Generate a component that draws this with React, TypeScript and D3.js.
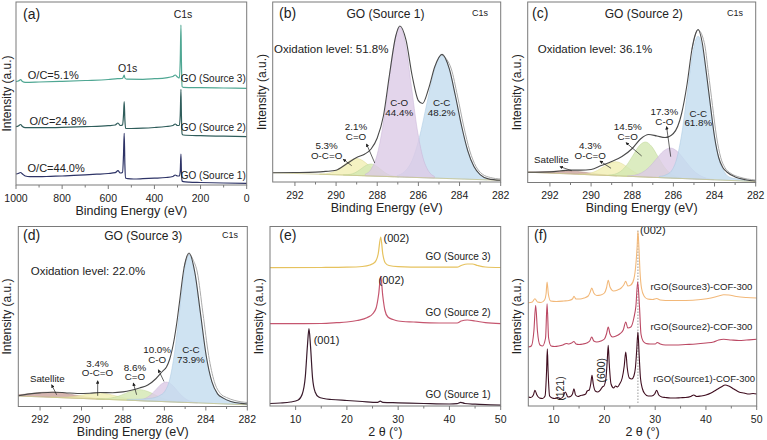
import React from 'react';
import * as d3 from 'd3';

type P = [number, number];

const FONT = 'Arial, "Liberation Sans", Helvetica, sans-serif';
const TXT = '#222';
const AXIS = '#7a7a7a';

// ================= (a) XPS survey: [binding energy eV, intensity a.u.] =================
const surveyTicks = [1000, 800, 600, 400, 200, 0];
const surveyMinor = [900, 700, 500, 300, 100];
const surveySource1: P[] = [
  [1000, 11], [990, 11.5], [980, 12.5], [972, 11], [960, 9], [940, 8.3], [900, 8.3], [850, 8.7], [800, 9],
  [750, 9.6], [700, 10.2], [650, 10.8], [600, 11.5], [570, 12.3], [558, 14.3], [548, 12], [538, 12.5],
  [534, 30], [531, 51.7], [528, 20], [525, 7], [515, 6.3], [490, 6], [450, 6.3], [400, 6.8], [350, 7.5],
  [320, 8.5], [310, 10], [300, 9], [292, 9], [288, 14], [285, 31], [283, 14], [280, 4], [275, 3.3],
  [250, 2.8], [200, 2.5], [100, 2], [0, 1.7],
];
const surveySource2: P[] = [
  [1000, 58.3], [990, 59], [980, 60.5], [972, 58.5], [960, 57.3], [900, 57.3], [800, 57.6], [700, 58.3],
  [600, 59.3], [570, 60], [558, 62], [548, 59.5], [538, 60], [534, 70], [531, 83.3], [528, 65], [525, 56.7],
  [500, 56.5], [450, 56.8], [400, 57.5], [350, 58.5], [320, 59.5], [310, 61], [300, 59.5], [292, 59.5],
  [288, 70], [285, 95.7], [283, 70], [280, 51], [275, 50], [200, 49.3], [100, 48.8], [0, 48.3],
];
const surveySource3: P[] = [
  [1000, 103.3], [990, 104], [980, 105.3], [972, 103.5], [960, 102.7], [900, 103], [800, 103.7],
  [700, 104.5], [600, 105.5], [560, 106.3], [540, 106.5], [534, 108.5], [531, 110], [528, 107], [520, 105.8],
  [450, 105.7], [400, 106.3], [350, 107.2], [320, 108.5], [310, 110], [300, 108], [292, 107], [288, 125],
  [285, 160], [283, 125], [280, 98.5], [275, 97.7], [200, 97.3], [100, 97], [0, 96.7],
];
const surveyNames = ['GO (Source 1)', 'GO (Source 2)', 'GO (Source 3)'];
const surveyRatios = ['O/C=44.0%', 'O/C=24.8%', 'O/C=5.1%'];

// ================= C1s high-resolution: [binding energy eV, intensity above background] =================
const c1sTicks = [292, 290, 288, 286, 284, 282];
const c1sMinor = [291, 289, 287, 285, 283];

// (b) GO (Source 1)
const bBackground: P[] = [[293.08, 9.3], [282, 1.7]];
const bOCO: P[] = [[287.2, 0.19], [287.5, 0.75], [287.8, 2.3], [288.1, 5.5], [288.4, 10.3], [288.7, 15], [289.0, 17], [289.3, 15], [289.6, 10.3], [289.9, 5.5], [290.2, 2.3], [290.5, 0.75], [290.8, 0.19]];
const bCdO: P[] = [[286.95, 0.13], [287.18, 0.53], [287.4, 1.6], [287.63, 3.9], [287.85, 7.3], [288.08, 10.6], [288.3, 12], [288.53, 10.6], [288.75, 7.3], [288.98, 3.9], [289.2, 1.6], [289.43, 0.53], [289.65, 0.13]];
const bCO: P[] = [[285.22, 1.7], [285.5, 6.6], [285.78, 20.3], [286.06, 48.7], [286.34, 91], [286.62, 132.4], [286.9, 150], [287.18, 132.4], [287.46, 91], [287.74, 48.7], [288.02, 20.3], [288.3, 6.6], [288.58, 1.7]];
const bCC: P[] = [[282.66, 1.4], [283.03, 5.4], [283.39, 16.8], [283.76, 40.3], [284.12, 75.2], [284.49, 109.4], [284.85, 124], [285.21, 109.4], [285.58, 75.2], [285.95, 40.3], [286.31, 16.8], [286.68, 5.4], [287.04, 1.4]];
const bEnvelope: P[] = [[293.08, 9.3], [292, 9.5], [291, 9.9], [290.5, 10.6], [290, 11.8], [289.5, 18], [289, 24.5], [288.6, 28], [288.3, 33], [288, 44], [287.7, 66], [287.4, 108], [287.1, 146], [286.9, 156], [286.6, 141.8], [286.3, 106], [286, 81.4], [285.8, 78.5], [285.5, 93.6], [285.2, 115.5], [284.85, 127.6], [284.5, 113.3], [284.2, 86], [283.9, 56], [283.6, 31.2], [283.3, 15.5], [283, 7.3], [282.6, 3.1], [282, 1.7]];
const bRaw: P[] = [[284.85, 127], [284.4, 113], [284.1, 86], [283.8, 56], [283.5, 31], [283.2, 15.5], [282.9, 8], [282.5, 4.5], [282, 3]];

// (c) GO (Source 2)
const cBackground: P[] = [[293.08, 10.3], [282, 1.0]];
const cSat: P[] = [[288.75, 0.13], [289.2, 0.4], [289.65, 0.97], [290.1, 1.8], [290.55, 2.65], [291.0, 3], [291.45, 2.65], [291.9, 1.8], [292.35, 0.97], [292.8, 0.4], [293.08, 0.2]];
const cOCO: P[] = [[287.0, 0.16], [287.3, 0.6], [287.6, 1.9], [287.9, 4.5], [288.2, 8.5], [288.5, 12.4], [288.8, 14], [289.1, 12.4], [289.4, 8.5], [289.7, 4.5], [290.0, 1.9], [290.3, 0.6], [290.6, 0.16]];
const cCdO: P[] = [[285.56, 0.39], [285.86, 1.5], [286.16, 4.7], [286.46, 11.4], [286.76, 21.2], [287.06, 30.9], [287.36, 35], [287.66, 30.9], [287.96, 21.2], [288.26, 11.4], [288.56, 4.7], [288.86, 1.5], [289.16, 0.39]];
const cCO: P[] = [[284.04, 0.33], [284.39, 1.3], [284.74, 4.1], [285.09, 9.7], [285.44, 18.2], [285.79, 26.5], [286.14, 30], [286.49, 26.5], [286.84, 18.2], [287.19, 9.7], [287.54, 4.1], [287.89, 1.3], [288.24, 0.33]];
const cCC: P[] = [[282.2, 0.5], [282.7, 1.5], [283.24, 3], [283.5, 7.5], [283.76, 19.4], [284.02, 46.4], [284.28, 86.7], [284.54, 126.2], [284.8, 143], [285.06, 126.2], [285.32, 86.7], [285.58, 46.4], [285.84, 19.4], [286.1, 7], [286.36, 3], [286.7, 1]];
const cEnvelope: P[] = [[293.08, 10.3], [292, 10.6], [291, 12.4], [290.5, 12.4], [290, 13], [289.5, 17], [289, 21], [288.5, 26], [288, 34], [287.6, 43.5], [287.2, 48], [286.8, 46.5], [286.4, 45], [286, 49], [285.6, 69], [285.33, 99], [285.1, 133], [284.95, 147], [284.8, 153], [284.6, 140], [284.4, 110], [284.2, 77], [284, 45.5], [283.8, 25], [283.6, 15], [283.4, 10.5], [283, 5.5], [282.5, 2.8], [282, 1.5]];
const cRaw: P[] = [[285.1, 133], [284.8, 152.5], [284.5, 140], [284.3, 110], [284.1, 77], [283.9, 45.5], [283.7, 25], [283.5, 15], [283.2, 9], [282.8, 5.5], [282.4, 3.5], [282, 2.5]];

// (d) GO (Source 3)
const dBackground: P[] = [[293.05, 10.5], [282, 1.7]];
const dSat: P[] = [[288.86, 0.23], [289.36, 0.72], [289.86, 1.7], [290.36, 3.2], [290.86, 4.7], [291.36, 5.3], [291.86, 4.7], [292.36, 3.2], [292.86, 1.7], [293.05, 1.4]];
const dOCO: P[] = [[286.7, 0.07], [287.1, 0.26], [287.5, 0.8], [287.9, 1.95], [288.3, 3.6], [288.7, 5.3], [289.1, 6], [289.5, 5.3], [289.9, 3.6], [290.3, 1.95], [290.7, 0.8], [291.1, 0.26], [291.5, 0.07]];
const dCdO: P[] = [[285.08, 0.12], [285.43, 0.48], [285.78, 1.5], [286.13, 3.6], [286.48, 6.7], [286.83, 9.7], [287.18, 11], [287.53, 9.7], [287.88, 6.7], [288.23, 3.6], [288.58, 1.5], [288.93, 0.48], [289.28, 0.12]];
const dCO: P[] = [[284.4, 0.22], [284.65, 0.86], [284.9, 2.7], [285.15, 6.4], [285.4, 11.9], [285.65, 17.3], [285.9, 19.6], [286.15, 17.3], [286.4, 11.9], [286.65, 6.4], [286.9, 2.7], [287.15, 0.86], [287.4, 0.22]];
const dCC: P[] = [[282.0, 1], [282.3, 1.5], [282.8, 3], [283.16, 6], [283.435, 10], [283.71, 22], [283.985, 48], [284.26, 89.8], [284.535, 130.6], [284.81, 148], [285.05, 130.6], [285.28, 89.8], [285.52, 48], [285.75, 22], [285.99, 10], [286.22, 6], [286.6, 3], [287.2, 1.5], [287.8, 0.7]];
const dEnvelope: P[] = [[293.05, 10.8], [292.5, 12.6], [292, 13.6], [291.4, 14.3], [290.8, 13.8], [290.2, 13], [289.6, 13.3], [289.1, 14], [288.5, 13.8], [288, 14.6], [287.6, 16.2], [287.2, 18.5], [286.8, 21.5], [286.4, 28], [286.1, 35], [285.9, 39.5], [285.75, 47], [285.52, 68], [285.4, 84], [285.28, 103], [285.05, 139], [284.81, 153.5], [284.535, 134.5], [284.26, 93.3], [283.985, 51], [283.71, 24.8], [283.435, 12.6], [283.16, 8.4], [282.8, 5.1], [282.3, 3.1], [282, 2.5]];
const dRaw: P[] = [[285.05, 139], [284.81, 152.5], [284.6, 146], [284.415, 134.5], [284.14, 93.3], [283.865, 51], [283.59, 24.8], [283.3, 13], [283, 9], [282.6, 6], [282, 4]];

// ================= (e) XRD of GO: [2theta deg, intensity] =================
const xrdTicks = [10, 20, 30, 40, 50];
const xrdMinor = [15, 25, 35, 45];
const goXrd1: P[] = [[5, 2.5], [7, 3], [9, 4], [10.5, 6], [11.3, 12], [11.9, 30], [12.3, 60], [12.6, 77.3], [12.9, 60], [13.3, 28], [13.8, 14], [14.5, 9], [15.5, 7.5], [17, 6.5], [20, 5.5], [23, 4.5], [26, 3.7], [26.5, 4.8], [27, 3.6], [30, 3.2], [35, 2.5], [40, 2], [41.5, 2.4], [42.2, 3.7], [43, 2.5], [45, 1.8], [48, 1.2], [50, 0.8]];
const goXrd2: P[] = [[5, 82.3], [10, 82.3], [15, 82.5], [18, 83.3], [20, 84], [22, 85.5], [24, 88.5], [25, 92], [25.7, 98], [26.2, 112], [26.6, 129.7], [27.0, 110], [27.4, 96], [28, 89], [29, 86.5], [30, 85], [33, 84], [38, 83], [41.5, 83], [42.3, 85], [43.5, 86], [45, 85], [47, 83.3], [50, 82.3]];
const goXrd3: P[] = [[5, 138.3], [15, 138.5], [20, 138.8], [23, 139.5], [24.5, 141], [25.5, 144], [26.1, 152], [26.6, 169], [27.0, 152], [27.5, 143], [28.2, 140.5], [30, 139.3], [35, 138.8], [41.5, 138.8], [42.3, 140.5], [43.5, 142], [44.5, 142], [45.5, 140.5], [47, 139], [50, 138.5]];
const goXrdNames = ['GO (Source 1)', 'GO (Source 2)', 'GO (Source 3)'];

// ================= (f) XRD of rGO-COF-300 =================
const cofXrd1: P[] = [[5, 9], [5.5, 8.5], [6, 11], [6.3, 15.7], [6.7, 11], [7.2, 8], [7.8, 7.5], [8.3, 10], [8.6, 35], [8.75, 57.3], [8.9, 35], [9.2, 10], [9.7, 8], [10.2, 7.5], [10.8, 8.5], [11.3, 7.5], [11.8, 9], [12.3, 14], [12.8, 9], [13.3, 9.5], [13.7, 12], [14.0, 17.3], [14.3, 11], [14.8, 9.5], [15.3, 10.5], [15.8, 11], [16.3, 12], [16.6, 15], [17.0, 16], [17.3, 22], [17.55, 30.7], [17.8, 22], [18.2, 15], [18.7, 14], [19.2, 16], [19.6, 19], [19.9, 20], [20.3, 28], [20.55, 45], [20.75, 60.7], [20.95, 42], [21.3, 22], [21.8, 18], [22.2, 20], [22.6, 19], [23.0, 22], [23.5, 28], [23.9, 40], [24.2, 54], [24.5, 38], [24.9, 28], [25.4, 27], [25.8, 30], [26.1, 38], [26.35, 55], [26.6, 74], [26.85, 50], [27.1, 28], [27.5, 17], [28.0, 12], [28.6, 10], [29.3, 10], [29.9, 12], [30.3, 15.7], [30.7, 11], [31.3, 9], [32, 8.5], [33, 8], [34, 8], [35, 8.3], [36, 8.5], [37, 9.5], [37.6, 11], [38.2, 9.5], [39, 10], [40, 11], [41, 13], [42, 16], [43, 19], [43.8, 21], [44.5, 20], [45.5, 17], [46.5, 14], [47.5, 13], [48.5, 12], [49.3, 12.5], [50, 12]];
const cofXrd2: P[] = [[5, 59], [5.6, 60], [6.1, 75], [6.45, 100.7], [6.8, 75], [7.3, 61], [7.8, 60], [8.4, 68], [8.7, 102.3], [9.0, 68], [9.5, 60], [10.2, 59.5], [11, 60], [11.8, 61], [12.5, 62.5], [13, 62], [13.5, 63], [14.0, 64.5], [14.4, 62], [15, 61.5], [15.8, 62], [16.5, 63], [17.1, 65], [17.5, 69], [17.9, 65], [18.5, 64], [19.3, 65], [20.0, 67], [20.4, 72], [20.75, 79], [21.1, 72], [21.6, 69], [22.3, 70], [23.0, 72], [23.7, 76], [24.2, 84], [24.6, 78], [25.2, 79], [25.8, 88], [26.2, 100], [26.55, 124], [26.9, 100], [27.2, 72], [27.6, 65], [28.2, 62.5], [29, 62], [30, 62], [30.4, 63.5], [31, 62], [32, 61], [34, 61], [36, 61.5], [38, 62], [40, 63], [41.5, 64], [42.5, 66], [43.5, 66.7], [45, 66], [46.5, 65.5], [48, 66], [50, 66.7]];
const cofXrd3: P[] = [[5, 103.3], [5.8, 104], [6.3, 107.3], [6.8, 104], [7.5, 103.5], [8.2, 106], [8.5, 112], [8.7, 124], [8.95, 112], [9.4, 105], [10.5, 104.5], [12, 105], [13, 105.5], [13.7, 107], [14.0, 109.7], [14.4, 107], [15.2, 107], [16, 108], [16.8, 110], [17.2, 114], [17.5, 118], [17.9, 113], [18.5, 110.5], [19.3, 111], [20.0, 113], [20.4, 118], [20.75, 125.7], [21.1, 119], [21.8, 115], [22.6, 116], [23.3, 118], [23.8, 121], [24.2, 124.7], [24.6, 120], [25.2, 121], [25.8, 127], [26.2, 142], [26.45, 160], [26.6, 174.7], [26.8, 158], [27.0, 135], [27.3, 118], [27.8, 110], [28.5, 107], [29.5, 106.5], [30.3, 107.5], [31, 106], [33, 105.5], [36, 105.5], [39, 106.5], [41, 108], [42.5, 110], [43.5, 111.3], [44.5, 111], [46, 109.5], [48, 108.5], [50, 108]];
const cofNames = ['rGO(Source1)-COF-300', 'rGO(Source2)-COF-300', 'rGO(Source3)-COF-300'];

// ================= styles =================
const FILL = { cc: '#c3dcef', co: '#dccae6', cdo: '#d3e7b2', oco: '#f1efb3', sat: '#caa39c' };
const STROKE = { cc: '#a6c7e0', co: '#c7b2d6', cdo: '#bcd595', oco: '#dcd78e', sat: '#b58a82' };

interface Fr { l: number; t: number; r: number; b: number }

function Axes({ fr, x, major, minor, xlabel }: { fr: Fr; x: (v: number) => number; major: number[]; minor: number[]; xlabel: React.ReactNode }) {
  return (
    <g>
      <rect x={fr.l} y={fr.t} width={fr.r - fr.l} height={fr.b - fr.t} fill="none" stroke={AXIS} strokeWidth={1} />
      {major.map((t) => (
        <g key={'M' + t}>
          <line x1={x(t)} x2={x(t)} y1={fr.b} y2={fr.b + 4} stroke={AXIS} />
          <text x={x(t)} y={fr.b + 16.5} textAnchor="middle" fontSize={10.5} fill={TXT}>{t}</text>
        </g>
      ))}
      {minor.map((t) => (
        <line key={'m' + t} x1={x(t)} x2={x(t)} y1={fr.b} y2={fr.b + 2.5} stroke={AXIS} />
      ))}
      <text x={(fr.l + fr.r) / 2} y={fr.b + 29.5} textAnchor="middle" fontSize={12.5} fill={TXT}>{xlabel}</text>
      <text transform={`translate(${Math.max(fr.l - 7, 11)},${(fr.t + fr.b) / 2}) rotate(-90)`} textAnchor="middle" fontSize={12} fill={TXT}>
        Intensity (a.u.)
      </text>
    </g>
  );
}

// two-line peak annotation: first line baseline at (e, v), second line `gap` px lower
interface Note { lines: string[]; e: number; v: number }
interface Comp { data: P[]; key: keyof typeof FILL }

function XpsPanel(p: {
  id: string; fr: Fr; xMax: number; bg: P[]; comps: Comp[]; env: P[]; raw: P[];
  letter: string; letterPos: P; title: string; titlePos: P; c1sPos: P; ox: string; oxPos: P;
  notes: Note[]; arrows: [number, number, number, number][];
}) {
  const { fr } = p;
  const x = d3.scaleLinear().domain([p.xMax, 282]).range([fr.l, fr.r]);
  const y = d3.scaleLinear().domain([0, fr.b - fr.t]).range([fr.b, fr.t]);
  const bg = d3.scaleLinear().domain(p.bg.map((d) => d[0])).range(p.bg.map((d) => d[1]));
  const sorted = (d: P[]) => [...d].sort((a, b) => b[0] - a[0]);
  const area = d3.area<P>().x((d) => x(d[0])).y0((d) => y(bg(d[0]))).y1((d) => y(bg(d[0]) + d[1])).curve(d3.curveMonotoneX);
  const line = d3.line<P>().x((d) => x(d[0])).y((d) => y(d[1])).curve(d3.curveMonotoneX);
  return (
    <g>
      <defs>
        <clipPath id={p.id + 'clip'}>
          <rect x={fr.l} y={fr.t} width={fr.r - fr.l} height={fr.b - fr.t} />
        </clipPath>
      </defs>
      <g clipPath={`url(#${p.id}clip)`}>
        {p.comps.map((c, i) => (
          <path key={i} d={area(sorted(c.data)) || ''} fill={FILL[c.key]} fillOpacity={0.8} stroke={STROKE[c.key]} strokeWidth={0.5} />
        ))}
        <path d={line(sorted(p.bg)) || ''} fill="none" stroke="#c9c78f" strokeWidth={0.8} />
        <path d={line(sorted(p.raw)) || ''} fill="none" stroke="#aaaaaa" strokeWidth={1} />
        <path d={line(sorted(p.env)) || ''} fill="none" stroke="#4a4a4a" strokeWidth={1.1} />
      </g>
      {p.arrows.map((a, i) => (
        <line key={i} x1={x(a[0])} y1={y(a[1])} x2={x(a[2])} y2={y(a[3])} stroke="#222" strokeWidth={0.7} markerStart="url(#arrowHead)" />
      ))}
      {p.notes.map((n, i) => (
        <text key={i} x={x(n.e)} y={y(n.v)} textAnchor="middle" fontSize={9.8} fill={TXT}>
          {n.lines.map((l, j) => (
            <tspan key={j} x={x(n.e)} dy={j === 0 ? 0 : 9.6}>{l}</tspan>
          ))}
        </text>
      ))}
      <text x={p.letterPos[0]} y={p.letterPos[1]} fontSize={14} fill={TXT}>{p.letter}</text>
      <text x={p.titlePos[0]} y={p.titlePos[1]} textAnchor="middle" fontSize={12} fill={TXT}>{p.title}</text>
      <text x={p.c1sPos[0]} y={p.c1sPos[1]} textAnchor="middle" fontSize={9} fill={TXT}>C1s</text>
      <text x={p.oxPos[0]} y={p.oxPos[1]} fontSize={11.5} fill={TXT}>{p.ox}</text>
      <Axes fr={fr} x={x} major={c1sTicks} minor={c1sMinor} xlabel="Binding Energy (eV)" />
    </g>
  );
}

function SurveyPanel() {
  const fr: Fr = { l: 16, t: 2, r: 246.7, b: 185 };
  const x = d3.scaleLinear().domain([1000, 0]).range([fr.l, fr.r]);
  const y = d3.scaleLinear().domain([0, fr.b - fr.t]).range([fr.b, fr.t]);
  const line = d3.line<P>().x((d) => x(d[0])).y((d) => y(d[1])).curve(d3.curveMonotoneX);
  const series = [surveySource1, surveySource2, surveySource3];
  const colors = ['#2e3467', '#2f5d5b', '#4fa793'];
  const nameV = [6, 54, 103];
  const ratioPos: P[] = [[950, 13], [942, 60], [949, 106]];
  return (
    <g>
      {series.map((s, i) => (
        <path key={i} d={line(s) || ''} fill="none" stroke={colors[i]} strokeWidth={1.2} />
      ))}
      {surveyNames.map((n, i) => (
        <text key={n} x={x(4)} y={y(nameV[i])} textAnchor="end" fontSize={10} fill={TXT}>{n}</text>
      ))}
      {surveyRatios.map((n, i) => (
        <text key={n} x={x(ratioPos[i][0])} y={y(ratioPos[i][1])} fontSize={11} fill={TXT}>{n}</text>
      ))}
      <text x={x(516)} y={y(113)} textAnchor="middle" fontSize={10.5} fill={TXT}>O1s</text>
      <text x={x(276)} y={y(167)} textAnchor="middle" fontSize={10.5} fill={TXT}>C1s</text>
      <text x={23} y={19} fontSize={14} fill={TXT}>(a)</text>
      <Axes fr={fr} x={x} major={surveyTicks} minor={surveyMinor} xlabel="Binding Energy (eV)" />
    </g>
  );
}

const twoTheta = <tspan>2 θ (°)</tspan>;

function GoXrdPanel() {
  const fr: Fr = { l: 270, t: 226.5, r: 500.7, b: 406 };
  const x = d3.scaleLinear().domain([5, 50]).range([fr.l, fr.r]);
  const y = d3.scaleLinear().domain([0, fr.b - fr.t]).range([fr.b, fr.t]);
  const line = d3.line<P>().x((d) => x(d[0])).y((d) => y(d[1])).curve(d3.curveMonotoneX);
  const series = [goXrd1, goXrd2, goXrd3];
  const colors = ['#3a1b2c', '#c5566f', '#e6c25e'];
  const nameV = [8, 89.7, 145.7];
  return (
    <g>
      {series.map((s, i) => (
        <path key={i} d={line(s) || ''} fill="none" stroke={colors[i]} strokeWidth={1.2} />
      ))}
      {goXrdNames.map((n, i) => (
        <text key={n} x={x(48.03)} y={y(nameV[i])} textAnchor="end" fontSize={10} fill={TXT}>{n}</text>
      ))}
      <text x={x(27.14)} y={y(164)} fontSize={11} fill={TXT}>(002)</text>
      <text x={x(26.17)} y={y(122.4)} fontSize={11} fill={TXT}>(002)</text>
      <text x={x(13.52)} y={y(62.4)} fontSize={11} fill={TXT}>(001)</text>
      <text x={279.3} y={240} fontSize={14} fill={TXT}>(e)</text>
      <Axes fr={fr} x={x} major={xrdTicks} minor={xrdMinor} xlabel={twoTheta} />
    </g>
  );
}

function CofXrdPanel() {
  const fr: Fr = { l: 528.3, t: 226.5, r: 756.7, b: 406 };
  const x = d3.scaleLinear().domain([5, 50]).range([fr.l, fr.r]);
  const y = d3.scaleLinear().domain([0, fr.b - fr.t]).range([fr.b, fr.t]);
  const line = d3.line<P>().x((d) => x(d[0])).y((d) => y(d[1])).curve(d3.curveMonotoneX);
  const series = [cofXrd1, cofXrd2, cofXrd3];
  const colors = ['#3f0d1f', '#bb4863', '#f2b879'];
  const namePos: P[] = [[49.67, 24], [49.14, 75.7], [49.14, 115.7]];
  return (
    <g>
      <line x1={x(26.6)} x2={x(26.6)} y1={y(3)} y2={y(176)} stroke="#999" strokeWidth={1} strokeDasharray="1.5 1.5" />
      {series.map((s, i) => (
        <path key={i} d={line(s) || ''} fill="none" stroke={colors[i]} strokeWidth={1.1} />
      ))}
      {cofNames.map((n, i) => (
        <text key={n} x={x(namePos[i][0])} y={y(namePos[i][1])} textAnchor="end" fontSize={9.5} fill={TXT}>{n}</text>
      ))}
      <text x={x(27.0)} y={y(172.4)} fontSize={11} fill={TXT}>(002)</text>
      <text transform={`translate(${x(11.25) + 3.5},${y(17.4)}) rotate(-90)`} textAnchor="middle" fontSize={10.5} fill={TXT}>(121)</text>
      <text transform={`translate(${x(19.46) + 3.5},${y(35.7)}) rotate(-90)`} textAnchor="middle" fontSize={10.5} fill={TXT}>(600)</text>
      <text x={534} y={240} fontSize={14} fill={TXT}>(f)</text>
      <Axes fr={fr} x={x} major={xrdTicks} minor={xrdMinor} xlabel={twoTheta} />
    </g>
  );
}

export default function App() {
  return (
    <svg
      width={767}
      height={440}
      viewBox="0 0 767 440"
      style={{ position: 'fixed', left: 0, top: 0, background: '#fff' }}
      fontFamily={FONT}
    >
      <defs>
        <marker id="arrowHead" viewBox="0 0 6 6" refX={5} refY={3} markerWidth={5} markerHeight={5} orient="auto-start-reverse">
          <path d="M0,0 L6,3 L0,6 z" fill="#222" />
        </marker>
      </defs>
      <rect x={0} y={0} width={767} height={440} fill="#fff" />
      <SurveyPanel />
      <XpsPanel
        id="b"
        fr={{ l: 272.7, t: 2, r: 500.7, b: 182 }}
        xMax={293.08}
        bg={bBackground}
        comps={[{ data: bOCO, key: 'oco' }, { data: bCdO, key: 'cdo' }, { data: bCC, key: 'cc' }, { data: bCO, key: 'co' }]}
        env={bEnvelope}
        raw={bRaw}
        letter="(b)" letterPos={[279, 18]}
        title="GO (Source 1)" titlePos={[385.5, 18]}
        c1sPos={[480, 16]}
        ox="Oxidation level: 51.8%" oxPos={[274, 53.3]}
        notes={[
          { lines: ['C-O', '44.4%'], e: 286.93, v: 76 },
          { lines: ['C-C', '48.2%'], e: 284.87, v: 76 },
          { lines: ['2.1%', 'C=O'], e: 289.03, v: 52 },
          { lines: ['5.3%', 'O-C=O'], e: 290.46, v: 33 },
        ]}
        arrows={[[288.52, 38, 288.12, 19], [289.65, 22.7, 289.24, 16.3]]}
      />
      <XpsPanel
        id="c"
        fr={{ l: 527.7, t: 2, r: 755.7, b: 182.5 }}
        xMax={293.08}
        bg={cBackground}
        comps={[{ data: cSat, key: 'sat' }, { data: cOCO, key: 'oco' }, { data: cCdO, key: 'cdo' }, { data: cCO, key: 'co' }, { data: cCC, key: 'cc' }]}
        env={cEnvelope}
        raw={cRaw}
        letter="(c)" letterPos={[532, 18]}
        title="GO (Source 2)" titlePos={[643.8, 18]}
        c1sPos={[735, 16]}
        ox="Oxidation level: 36.1%" oxPos={[537.7, 53.3]}
        notes={[
          { lines: ['C-C', '61.8%'], e: 284.79, v: 65.8 },
          { lines: ['17.3%', 'C-O'], e: 286.44, v: 67.5 },
          { lines: ['14.5%', 'C=O'], e: 288.22, v: 52.5 },
          { lines: ['4.3%', 'O-C=O'], e: 290.04, v: 33.2 },
          { lines: ['Satellite'], e: 291.93, v: 19.8 },
        ]}
        arrows={[[286.33, 55.8, 286.13, 25.8], [288.3, 39.8, 287.54, 26.5], [289.57, 21.5, 289.03, 14.2], [291.51, 15.8, 290.94, 11.8]]}
      />
      <XpsPanel
        id="d"
        fr={{ l: 18.3, t: 226.5, r: 247.3, b: 406.5 }}
        xMax={293.05}
        bg={dBackground}
        comps={[{ data: dSat, key: 'sat' }, { data: dOCO, key: 'oco' }, { data: dCdO, key: 'cdo' }, { data: dCO, key: 'co' }, { data: dCC, key: 'cc' }]}
        env={dEnvelope}
        raw={dRaw}
        letter="(d)" letterPos={[23, 240]}
        title="GO (Source 3)" titlePos={[143.3, 240]}
        c1sPos={[230, 238.3]}
        ox="Oxidation level: 22.0%" oxPos={[30.7, 275]}
        notes={[
          { lines: ['C-C', '73.9%'], e: 284.72, v: 53.4 },
          { lines: ['10.0%', 'C-O'], e: 286.35, v: 53.4 },
          { lines: ['8.6%', 'C=O'], e: 287.42, v: 35.7 },
          { lines: ['3.4%', 'O-C=O'], e: 289.23, v: 40 },
          { lines: ['Satellite'], e: 291.65, v: 25 },
        ]}
        arrows={[[286.29, 36.7, 286.02, 25], [287.5, 23.4, 287.34, 11.7], [289.22, 25.7, 289.22, 10.7], [291.44, 21.7, 291.2, 11.7]]}
      />
      <GoXrdPanel />
      <CofXrdPanel />
    </svg>
  );
}
